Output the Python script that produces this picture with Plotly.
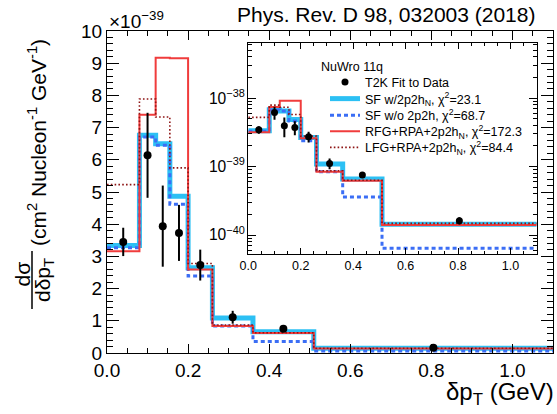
import plotly.graph_objects as go

# ---------------- data ----------------
bin_edges = [0.0, 0.08, 0.12, 0.155, 0.2, 0.26, 0.36, 0.51, 1.1]
data_x = [0.04, 0.10, 0.1375, 0.1775, 0.23, 0.31, 0.435, 0.805]
data_y = [3.45, 6.14, 3.94, 3.73, 2.73, 1.11, 0.755, 0.162]
data_err = [0.44, 1.32, 1.26, 0.87, 0.48, 0.20, 0.06, 0.02]

sf_2p2h = [3.34, 6.76, 6.50, 4.87, 2.65, 1.09, 0.66, 0.144]
sf_no2p2h = [3.27, 6.71, 6.45, 4.62, 2.39, 0.84, 0.36, 0.064]
rfg = [3.16, 7.40, 9.17, 9.15, 2.59, 0.84, 0.62, 0.140]
lfg = [5.23, 7.89, 7.33, 5.75, 2.78, 0.87, 0.63, 0.148]

scale = 1e-39  # main-axis unit

series_names = [
    "SF w/2p2h<sub>N</sub>, χ<sup>2</sup>=23.1",
    "SF w/o 2p2h, χ<sup>2</sup>=68.7",
    "RFG+RPA+2p2h<sub>N</sub>, χ<sup>2</sup>=172.3",
    "LFG+RPA+2p2h<sub>N</sub>, χ<sup>2</sup>=84.4",
]
data_name = "T2K Fit to Data"
header = "NuWro 11q"
main_xticks = [0.0, 0.2, 0.4, 0.6, 0.8, 1.0]
main_yticks = list(range(0, 11))

# ---------------- styles ----------------
FONT = "Liberation Sans, Arial, Helvetica, sans-serif"
W, H = 557, 414
L, R, T, B = 107, 4, 31, 61
PW, PH = W - L - R, H - T - B


def px(x):
    return (x - L) / PW


def py(y):
    return (H - B - y) / PH


styles = [
    dict(color="#2cc0f4", width=5),
    dict(color="#3b6ef5", width=3, dash="4px,3px"),
    dict(color="#f03c3c", width=2),
    dict(color="#8e1414", width=1.6, dash="1.6px,2.2px"),
]
models = [sf_2p2h, sf_no2p2h, rfg, lfg]
# one legend box per row (row centres in pixels), data row first
legend_ids = ["legend", "legend2", "legend3", "legend4", "legend5"]
legend_rows = [82.3, 99.0, 115.7, 131.7, 147.7]

fig = go.Figure()

for axes in ("main", "inset"):
    xa, ya = ("x", "y") if axes == "main" else ("x2", "y2")
    mult = 1.0 if axes == "main" else scale
    for i, (name, vals, st) in enumerate(zip(series_names, models, styles)):
        yv = [v * mult for v in vals] + [vals[-1] * mult]
        fig.add_trace(go.Scatter(
            x=bin_edges, y=yv, mode="lines", line=dict(shape="hv", **st),
            name=name, legendgroup=name, showlegend=(axes == "inset"),
            legend=legend_ids[i + 1],
            xaxis=xa, yaxis=ya, hoverinfo="skip"))
    fig.add_trace(go.Scatter(
        x=data_x, y=[v * mult for v in data_y], mode="markers",
        marker=dict(color="black", size=8 if axes == "main" else 7),
        error_y=dict(type="data", array=[e * mult for e in data_err],
                     color="black", thickness=2, width=0),
        name=data_name, legendgroup=data_name, legend=legend_ids[0],
        showlegend=(axes == "inset"), xaxis=xa, yaxis=ya))

common_axis = dict(showline=True, linecolor="black", linewidth=1.2,
                   mirror="ticks", ticks="inside", showgrid=False,
                   zeroline=False, tickcolor="black", tickwidth=1.2)

legend_layout = {}
for lid, ry in zip(legend_ids, legend_rows):
    legend_layout[lid] = dict(x=px(325), y=py(ry), xanchor="left",
                              yanchor="middle", bgcolor="rgba(0,0,0,0)",
                              font=dict(size=12.5, family=FONT),
                              borderwidth=0)

fig.update_layout(
    width=W, height=H,
    margin=dict(l=L, r=R, t=T, b=B),
    paper_bgcolor="white", plot_bgcolor="white",
    font=dict(family=FONT, color="black"),
    xaxis=dict(range=[0, 1.1], tickvals=main_xticks, tickformat=".1f",
               ticklen=9, tickfont=dict(size=19),
               minor=dict(ticks="inside", dtick=0.05, ticklen=5,
                          tickcolor="black", tickwidth=1.2),
               **common_axis),
    yaxis=dict(range=[0, 10], tickvals=main_yticks, ticklen=12,
               tickfont=dict(size=19),
               minor=dict(ticks="inside", dtick=0.2, ticklen=6,
                          tickcolor="black", tickwidth=1.2),
               **common_axis),
    xaxis2=dict(domain=[px(248.3), px(536.7)], anchor="y2", range=[0, 1.1],
                tickvals=main_xticks, tickformat=".1f", ticklen=6,
                tickfont=dict(size=12.5),
                minor=dict(ticks="inside", dtick=0.05, ticklen=3,
                           tickcolor="black", tickwidth=1),
                **{**common_axis, "linewidth": 1}),
    yaxis2=dict(domain=[py(253.5), py(43.3)], anchor="x2", type="log",
                range=[-40.27, -37.2], dtick=1, exponentformat="power",
                showexponent="all", ticklen=8, tickfont=dict(size=12.5),
                minor=dict(ticks="inside", dtick="D1", ticklen=4,
                           tickcolor="black", tickwidth=1),
                **{**common_axis, "linewidth": 1}),
    showlegend=True,
    **legend_layout,
)

ann = [
    dict(text=header, x=px(319), y=py(67.5), xanchor="left", yanchor="middle",
         font=dict(size=12.5)),
    dict(text="Phys. Rev. D 98, 032003 (2018)", x=px(537), y=py(15),
         xanchor="right", yanchor="middle", font=dict(size=21)),
    dict(text="×10<sup>−39</sup>", x=px(107), y=py(20), xanchor="left",
         yanchor="middle", font=dict(size=19)),
    dict(text="δp<sub>T</sub> (GeV)", x=px(556), y=py(393), xanchor="right",
         yanchor="middle", font=dict(size=24)),
    dict(text="dσ", x=px(21.5), y=py(274), textangle=-90, xanchor="center",
         yanchor="middle", font=dict(size=21)),
    dict(text="dδp<sub>T</sub>", x=px(44), y=py(280), textangle=-90,
         xanchor="center", yanchor="middle", font=dict(size=21)),
    dict(text="(cm<sup>2</sup> Nucleon<sup>-1</sup> GeV<sup>-1</sup>)",
         x=px(37), y=py(143), textangle=-90, xanchor="center",
         yanchor="middle", font=dict(size=21)),
]
for a in ann:
    fig.add_annotation(xref="paper", yref="paper", showarrow=False, **a)

fig.add_shape(type="line", xref="paper", yref="paper",
              x0=px(32), x1=px(32), y0=py(251), y1=py(309),
              line=dict(color="black", width=1.5))

fig.write_html("out.html",
               config={"displayModeBar": False},
               post_script="document.body.style.margin='0px';"
                           "document.body.style.overflow='hidden';")
